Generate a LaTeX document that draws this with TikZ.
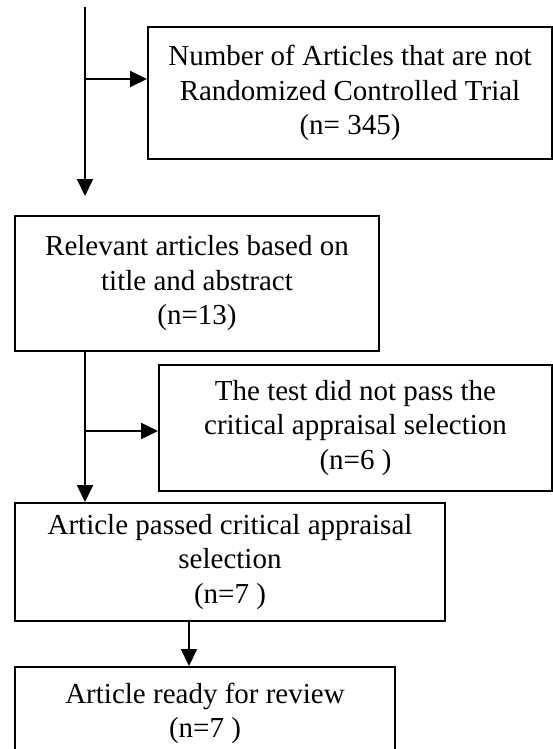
\documentclass[tikz,border=0pt]{standalone}
\usepackage{fontspec}
\setmainfont{Liberation Serif}
\usetikzlibrary{arrows.meta}
\begin{document}
\begin{tikzpicture}
[x=1pt, y=-1pt,
  boxdecorate/.style={shape=rectangle,draw,line width=2pt,align=center,
    inner sep=0pt,font=\fontsize{29}{34.5}\selectfont},%
  arrowdecorate/.style={-{Triangle[length=17pt,width=16pt]},line width=2pt}]
\useasboundingbox (0,0) rectangle (553,749);
\clip (0,0) rectangle (553,749);
%% boxes
\node (nonrct) at (350,93) [boxdecorate,minimum width=404pt,minimum height=132pt]
  {Number of Articles that are not\\Randomized Controlled Trial\\(n= 345)};
\node (relevant) at (197,283.5) [boxdecorate,minimum width=364pt,minimum height=135pt]
  {Relevant articles based on\\title and abstract\\(n=13)};
\node (failed) at (355.5,428) [boxdecorate,minimum width=393pt,minimum height=126pt]
  {The test did not pass the\\critical appraisal selection\\(n=6 )};
\node (passed) at (230,562) [boxdecorate,minimum width=430pt,minimum height=118pt]
  {Article passed critical appraisal\\selection\\(n=7 )};
\node (ready) at (205,713.5) [boxdecorate,minimum width=380pt,minimum height=93pt]
  {Article ready for review\\(n=7 )};
%% free ends of the lines
\coordinate (start) at (85,7);
\coordinate (branchA) at (85,79);
\coordinate (branchB) at (84,431);
%% lines and arrows
\draw[arrowdecorate,shorten >=19pt] (start) -- (start |- relevant.north);
\draw[arrowdecorate] (start |- relevant.south) -- (start |- passed.north);
\path
\foreach \startnode/\endnode in {branchA/nonrct, branchB/failed} {
  (\startnode) edge[arrowdecorate] (\startnode -| \endnode.west)
};
\draw[arrowdecorate] ([xshift=-41pt]passed.south)
  -- ([xshift=-41pt]passed.south |- ready.north);
\end{tikzpicture}
\end{document}
